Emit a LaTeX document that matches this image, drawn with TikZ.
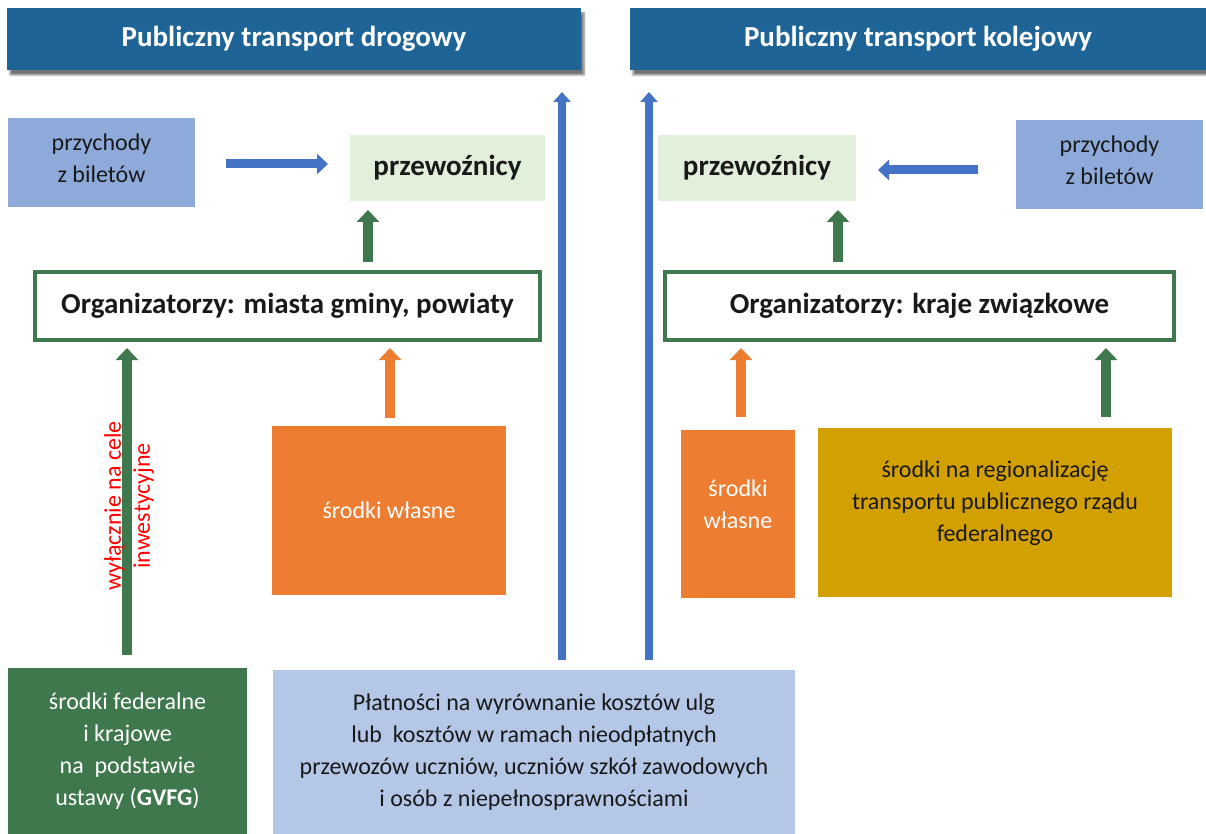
\documentclass[tikz,border=0pt]{standalone}
\usepackage{fontspec}
\setmainfont{Carlito}
\usetikzlibrary{arrows.meta, shadows.blur}
\definecolor{granat}{RGB}{31,100,150}
\definecolor{jasnoniebieski}{RGB}{142,170,219}
\definecolor{jasnozielony}{RGB}{226,239,218}
\definecolor{ziel}{RGB}{64,120,78}
\definecolor{pomar}{RGB}{237,125,49}
\definecolor{zloty}{RGB}{210,160,0}
\definecolor{blekit}{RGB}{180,199,231}
\definecolor{niebieski}{RGB}{68,114,196}
\definecolor{tekst}{RGB}{25,25,25}

\begin{document}
\begin{tikzpicture}[x=1pt,y=-1pt,
    box/.style={rectangle, inner sep=0pt, outer sep=0pt, anchor=north west, align=center,
        font=\fontsize{24}{32}\selectfont, text=tekst},
    naglowek/.style={box, fill=granat, text=white, font=\fontsize{29}{32}\selectfont\bfseries,
        minimum height=62pt,
        blur shadow={shadow xshift=3pt, shadow yshift=-5pt, shadow blur steps=6, shadow opacity=55}},
    przew/.style={box, fill=jasnozielony, font=\fontsize{29}{32}\selectfont\bfseries, minimum height=66pt},
    bilety/.style={box, fill=jasnoniebieski, minimum width=187pt, minimum height=89pt},
    org/.style={box, draw=ziel, line width=4pt, fill=white, font=\fontsize{29}{32}\selectfont\bfseries,
        minimum height=68pt},
    garrow/.style={draw=ziel, line width=10pt, -{Triangle[width=22pt,length=12pt]}},
    oarrow/.style={draw=pomar, line width=10pt, -{Triangle[width=22pt,length=12pt]}},
    narrow/.style={draw=niebieski, line width=9pt, -{Triangle[width=20pt,length=11pt]}},
    pion/.style={draw=niebieski, line width=8pt, -{Triangle[width=17pt,length=10pt]}}]
\useasboundingbox (0,0) rectangle (1206,834);

\node[naglowek, minimum width=574pt] (drogowy) at (7,8) {Publiczny transport drogowy};
\node[naglowek, minimum width=576pt] (kolejowy) at (630,8) {Publiczny transport kolejowy};

\node[bilety] (biletyD) at (8,118) {przychody\\z biletów\\[-24pt]};
\node[przew, minimum width=195pt] (przewoznicyD) at (350,135) {przewoźnicy};
\node[org, minimum width=505pt] (organizatorzyD) at (35,272) {Organizatorzy: miasta gminy, powiaty};
\node[box, fill=pomar, text=white, minimum width=234pt, minimum height=169pt] (wlasneD) at (272,426) {środki własne};
\node[box, fill=ziel, text=white, minimum width=239pt, minimum height=166pt] (federalneD) at (8,668)
    {środki federalne\\i krajowe\\na~~podstawie\\ustawy (\textbf{GVFG})};
\node[box, fill=blekit, minimum width=522pt, minimum height=164pt] (ulgi) at (273,670)
    {Płatności na wyrównanie kosztów ulg\\lub~~kosztów w ramach nieodpłatnych\\przewozów uczniów, uczniów szkół zawodowych\\i osób z niepełnosprawnościami};

\node[przew, minimum width=198pt] (przewoznicyK) at (658,135) {przewoźnicy};
\node[bilety] (biletyK) at (1016,120) {przychody\\z biletów\\[-24pt]};
\node[org, minimum width=509pt] (organizatorzyK) at (665,272) {Organizatorzy: kraje związkowe};
\node[box, fill=pomar, text=white, minimum width=114pt, minimum height=168pt] (wlasneK) at (681,430) {środki\\własne\\[-12pt]};
\node[box, fill=zloty, text=tekst, minimum width=354pt, minimum height=169pt] (regionalizacja) at (818,428)
    {środki na regionalizację\\transportu publicznego rządu\\federalnego\\[-10pt]};

\draw[narrow, shorten <=31pt, shorten >=22pt] (biletyD.east |- 0,164) -- (przewoznicyD.west |- 0,164);
\draw[garrow, shorten <=10pt, shorten >=9pt] (368,0 |- organizatorzyD.north) -- (368,0 |- przewoznicyD.south);
\draw[garrow, shorten <=13pt, shorten >=8pt] (127,0 |- federalneD.north) -- (127,0 |- organizatorzyD.south);
\draw[oarrow, shorten <=8pt, shorten >=8pt] (390,0 |- wlasneD.north) -- (390,0 |- organizatorzyD.south);
\draw[pion, shorten <=10pt, shorten >=22pt] (562,0 |- ulgi.north) -- (562,0 |- drogowy.south);
\draw[pion, shorten <=10pt, shorten >=22pt] (649,0 |- ulgi.north) -- (649,0 |- kolejowy.south);
\draw[narrow, shorten <=38pt, shorten >=22pt] (biletyK.west |- 0,170) -- (przewoznicyK.east |- 0,170);
\draw[garrow, shorten <=10pt, shorten >=9pt] (838,0 |- organizatorzyK.north) -- (838,0 |- przewoznicyK.south);
\draw[oarrow, shorten <=13pt, shorten >=8pt] (741,0 |- wlasneK.north) -- (741,0 |- organizatorzyK.south);
\draw[garrow, shorten <=11pt, shorten >=8pt] (1106,0 |- regionalizacja.north) -- (1106,0 |- organizatorzyK.south);

\node[rotate=90, align=center, text=red, font=\fontsize{24}{29}\selectfont] (cele) at (129,506)
    {wyłącznie na cele\\inwestycyjne};
\end{tikzpicture}
\end{document}
